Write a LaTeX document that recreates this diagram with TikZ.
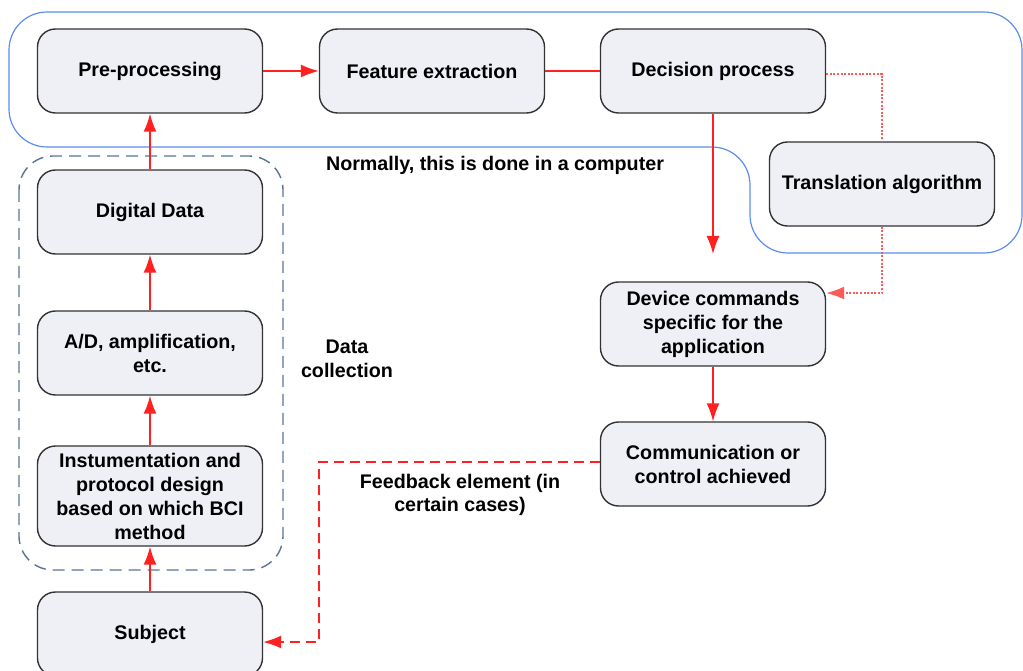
\documentclass[tikz,border=0pt]{standalone}
\usepackage{fontspec}
\setmainfont{Liberation Sans}
\usetikzlibrary{arrows.meta}
\definecolor{boxfill}{HTML}{EEF0F6}
\definecolor{boxline}{HTML}{333333}
\definecolor{pcline}{HTML}{5B8CF0}
\definecolor{dcline}{HTML}{5A7396}
\definecolor{flow}{HTML}{FF2020}
\definecolor{flowlight}{HTML}{FF5A5A}
\tikzset{
  block/.style={draw=boxline, fill=boxfill, line width=1.4pt, rounded corners=18pt,
    minimum width=225pt, minimum height=84pt, inner sep=2pt, align=center,
    font=\fontsize{19.7}{24}\selectfont\bfseries},
  lbl/.style={align=center, font=\fontsize{19.7}{23.5}\selectfont\bfseries},
  flowline/.style={draw=flow, line width=1.6pt},
  tip/.style={-{Latex[length=18pt,width=13pt]}}
}
\begin{document}
\begin{tikzpicture}[x=1pt,y=-1pt]
        \useasboundingbox (0,0) rectangle (1023,671);
        % computer and data collection outlines
        \draw[pcline, line width=1.2pt, rounded corners=38pt]
            (9,12) -- (1022,12) -- (1022,253) -- (750,253) -- (750,147) -- (9,147) -- cycle;
        \draw[dcline, line width=1.4pt, rounded corners=34pt, dash pattern=on 12pt off 7pt]
            (19,156) rectangle (283,570);

        \node[block] (pre) at (150,71) {Pre-processing};
        \node[block] (feat) at (432,71) {Feature extraction};
        \node[block] (dec) at (713,71) {Decision process};
        \node[block] (trans) at (882,184) {Translation algorithm};
        \node[block] (digi) at (150,212) {Digital Data};
        \node[block] (adc) at (150,353) {A/D, amplification,\\etc.};
        \node[block, minimum height=100pt] (inst) at (150,496) {Instumentation and\\protocol design\\based on which BCI\\method};
        \node[block] (subj) at (150,634) {Subject};
        \node[block] (dev) at (713,324) {Device commands\\specific for the\\application};
        \node[block] (comm) at (713,464) {Communication or\\control achieved};

        \node[lbl] (normal) at (495,165) {Normally, this is done in a computer};
        \node[lbl] (datacol) at (347,359) {Data\\collection};
        \node[lbl] (fbk) at (460,495) {Feedback element (in\\certain cases)};

        \coordinate (dectip) at (713,254);
        \coordinate (fbturn) at (319,462);

        \path[flowline,tip] (pre.east) -- (feat.west);
        \path[flowline] (feat.east) -- (dec.west);
        \path[flowline,tip] (dec.south) -- (dectip);
        \path[flowline,draw=flowlight,dash pattern=on 2pt off 1.6pt] ([yshift=-3pt]dec.east) -| (trans.north);
        \path[flowline,draw=flowlight,dash pattern=on 2pt off 1.6pt,tip] (trans.south) |- ([yshift=31pt]dev.east);
        \path[flowline,tip] (dev) -- (comm);
        \path[flowline,dash pattern=on 10pt off 6pt,tip] ([yshift=2pt]comm.west) -- (fbturn) |- ([yshift=-8pt]subj.east);

        \path[flowline,tip] (subj) -- (inst);
        \path[flowline,tip] (inst) -- (adc);
        \path[flowline,tip] (adc) -- (digi);
        \path[flowline,tip] (digi) -- (pre);
\end{tikzpicture}
\end{document}
